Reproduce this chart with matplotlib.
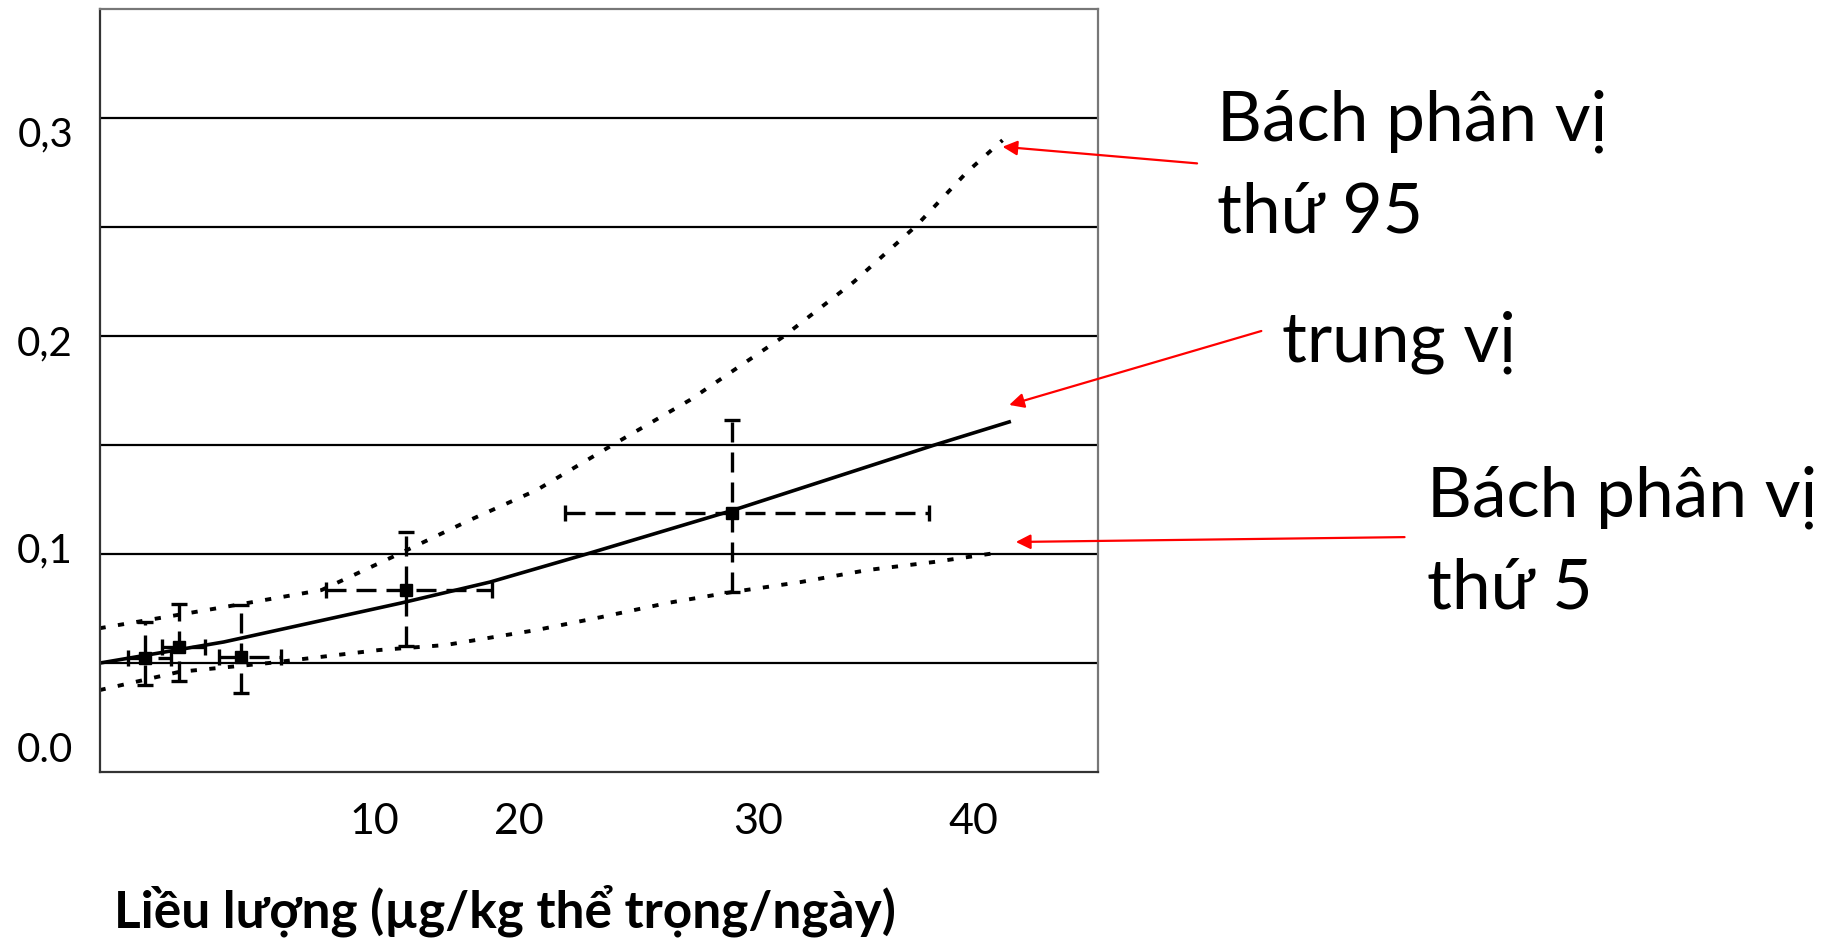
import numpy as np
import matplotlib
matplotlib.use("Agg")
import matplotlib.pyplot as plt

plt.rcParams['font.family'] = ['Lato', 'DejaVu Sans']

# curves (x in axis units)
median_x = [0, 5.6, 13.6, 17.6, 22.1, 28.5, 37.6, 41.0]
median_y = [0.050, 0.0597, 0.0776, 0.0872, 0.1005, 0.120, 0.150, 0.1607]

p95_x = [0, 5.6, 10.0, 13.2, 16.7, 19.7, 23.1, 26.6, 30.8, 34.0, 36.8, 39.1, 40.7]
p95_y = [0.066, 0.0757, 0.0835, 0.0987, 0.1157, 0.1294, 0.150, 0.1707, 0.1997, 0.225, 0.2506, 0.2754, 0.290]

p5_x = [0, 3.6, 7.6, 12.6, 15.6, 19.7, 22.6, 25.6, 28.5, 31.6, 34.6, 37.6, 40.7]
p5_y = [0.0376, 0.046, 0.050, 0.056, 0.0583, 0.0652, 0.0711, 0.0776, 0.0826, 0.0872, 0.0927, 0.0964, 0.101]

# observed points with error ranges
pt_x = [2.06, 3.57, 6.38, 13.8, 28.5]
pt_y = [0.0523, 0.0574, 0.0528, 0.0835, 0.119]
x_lo = [1.3, 2.8, 5.4, 10.2, 21.0]
x_hi = [3.2, 4.75, 8.2, 17.7, 37.4]
y_lo = [0.040, 0.042, 0.0363, 0.058, 0.0826]
y_hi = [0.069, 0.077, 0.0767, 0.110, 0.1616]

x_tick_pos = [12.4, 18.9, 29.7, 39.4]
x_tick_labels = ['10', '20', '30', '40']
y_tick_pos = [0.0115, 0.103, 0.198, 0.294]
y_tick_labels = ['0.0', '0,1', '0,2', '0,3']
grid_vals = [0.05, 0.10, 0.15, 0.20, 0.25, 0.30]

fig = plt.figure(figsize=(18.36, 9.39), dpi=100)
ax = fig.add_axes([0.0542, 0.1778, 0.5438, 0.8121])

ax.set_xlim(0, 45)
ax.set_ylim(0, 0.35)

ax.set_yticks(grid_vals, [''] * len(grid_vals))
ax.grid(axis='y', color='black', lw=1.6)
ax.set_yticks(y_tick_pos, y_tick_labels, minor=True)
ax.set_xticks(x_tick_pos, x_tick_labels)
ax.tick_params(which='both', length=0)
ax.tick_params(axis='y', which='minor', labelsize=29, pad=19)
ax.tick_params(axis='x', labelsize=31, pad=22)
ax.set_axisbelow(True)
for s in ax.spines.values():
    s.set_color('#777777')
    s.set_linewidth(1.6)
ax.spines['bottom'].set_color('#333333')
ax.spines['left'].set_color('#333333')

ax.plot(median_x, median_y, color='black', lw=2.6)
ax.plot(p95_x, p95_y, color='black', lw=2.8, ls=(0, (1.6, 3.2)))
ax.plot(p5_x, p5_y, color='black', lw=2.8, ls=(0, (1.6, 3.2)))

xerr = [np.array(pt_x) - np.array(x_lo), np.array(x_hi) - np.array(pt_x)]
yerr = [np.array(pt_y) - np.array(y_lo), np.array(y_hi) - np.array(pt_y)]
eb = ax.errorbar(pt_x, pt_y, xerr=xerr, yerr=yerr, fmt='s', color='black',
                 markersize=9, elinewidth=2.4, capsize=6, capthick=2.4)
for lc in eb[2]:
    lc.set_linestyle((0, (6, 3)))

fig.text(0.275, 0.03, 'Liều lượng (µg/kg thể trọng/ngày)', fontsize=37,
         fontweight='bold', ha='center', va='center')

arrow = dict(arrowstyle='-|>', color='red', lw=1.6, mutation_scale=22,
             shrinkA=0, shrinkB=0)
ax.annotate('', xy=(40.7, 0.287), xytext=(0.652, 0.826),
            textcoords='figure fraction', arrowprops=arrow)
ax.annotate('', xy=(41.0, 0.1685), xytext=(0.687, 0.6475),
            textcoords='figure fraction', arrowprops=arrow)
ax.annotate('', xy=(41.3, 0.1056), xytext=(0.765, 0.428),
            textcoords='figure fraction', arrowprops=arrow)

fig.text(0.663, 0.822, 'Bách phân vị\nthứ 95', fontsize=50, va='center',
         linespacing=1.55)
fig.text(0.698, 0.636, 'trung vị', fontsize=50, va='center')
fig.text(0.777, 0.422, 'Bách phân vị\nthứ 5', fontsize=50, va='center',
         linespacing=1.55)

fig.savefig('out.png', dpi=100)
